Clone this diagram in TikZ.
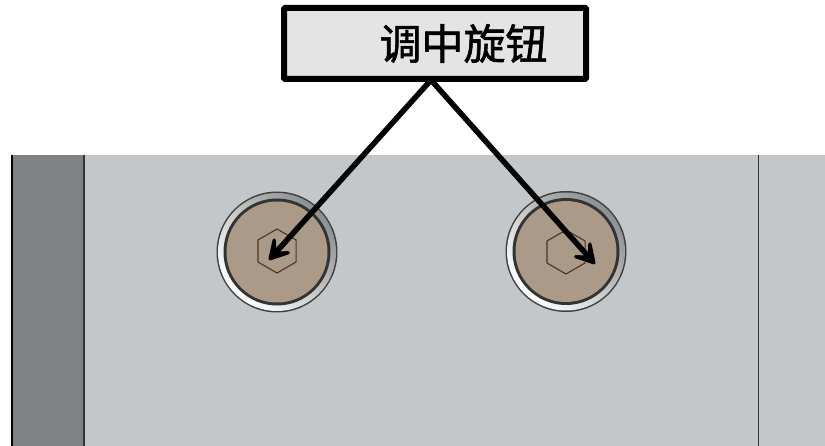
\documentclass[tikz,border=0pt]{standalone}
\usepackage{fontspec}
\newfontfamily\cjk{Noto Sans CJK SC}[FakeBold=1.4]
\usetikzlibrary{shapes.geometric,arrows.meta}
\definecolor{plate}{HTML}{C3C7CA}
\definecolor{darkplate}{HTML}{7F8383}
\definecolor{knob}{HTML}{AB9A88}
\definecolor{boxfill}{HTML}{E4E4E4}
\definecolor{hexline}{HTML}{4A3526}
\tikzset{
  labelbox/.style={draw=black,line width=6pt,fill=boxfill,rounded corners=1pt,minimum width=302pt,minimum height=71pt,inner sep=0pt,font=\cjk\fontsize{42pt}{44pt}\selectfont},
  pointer/.style={line width=5.5pt,black,-{Stealth[length=29pt,width=33pt,inset=16pt,round]}},
  hexhole/.style={draw=hexline,line width=1.1pt,regular polygon,regular polygon sides=6,minimum size=44pt,inner sep=0pt,shape border rotate=30},
}
\newcommand{\knobat}[2]{%
  \begin{scope}[shift={(#1,#2)}]
    \fill[black!75] (0,0) circle (60.5);
    \shade[top color=darkplate!90,bottom color=white,shading angle=-45] (0,0) circle (59);
    \fill[black!80] (0,0) circle (53.5);
    \fill[knob] (0,0) circle (50.5);
  \end{scope}}
\begin{document}
\begin{tikzpicture}[x=1pt,y=-1pt]
\useasboundingbox (0,0) rectangle (825,446);
\fill[white] (0,0) rectangle (825,446);
\fill[plate] (12,155) rectangle (825,446);
\fill[darkplate] (12,155) rectangle (84,446);
\draw[black,line width=2pt] (12,155) -- (12,446);
\draw[black!80,line width=1.2pt] (84,155) -- (84,446);
\draw[black!80,line width=1pt] (758,155) -- (758,446);
\knobat{277}{252}
\knobat{566}{251.5}
\node[hexhole] (hexL) at (277,251) {};
\node[hexhole] (hexR) at (566,252) {};
\coordinate (apex) at (431,80);
\coordinate (tipL) at (269,260);
\coordinate (tipR) at (595,264);
\draw[pointer] (apex) -- (tipL);
\draw[pointer] (apex) -- (tipR);
\node[labelbox] (box) at (435,43.5) {\hspace*{57pt}调中旋钮};
\end{tikzpicture}
\end{document}
